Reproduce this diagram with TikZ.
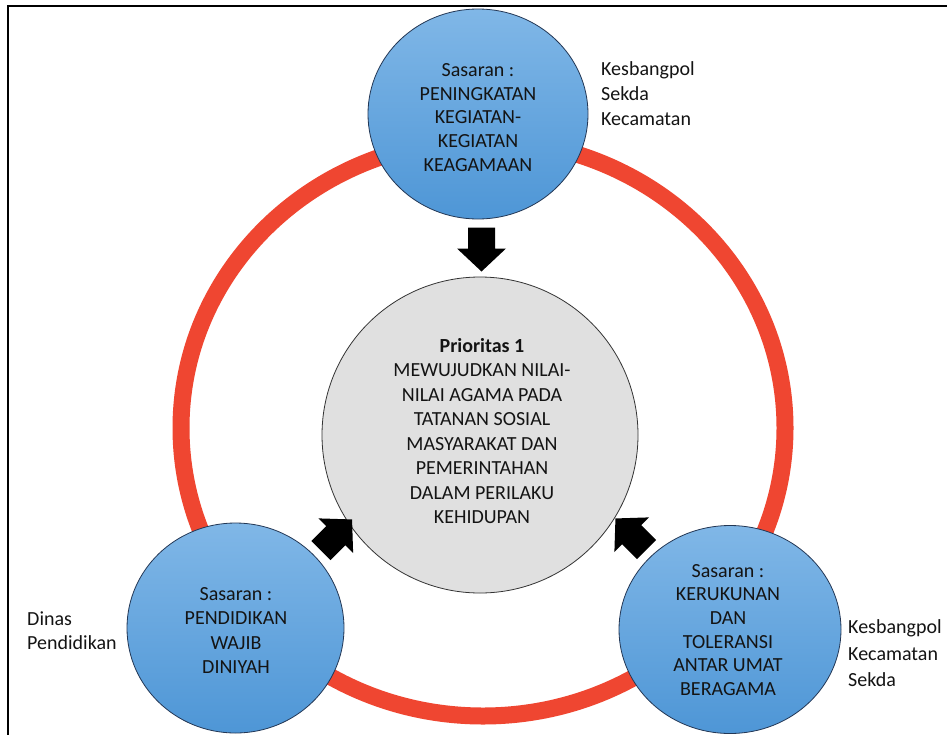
\documentclass[tikz,border=0pt]{standalone}
\usepackage{fontspec}
\setmainfont{Carlito}
\usetikzlibrary{shapes.geometric}
\definecolor{ringred}{RGB}{239,70,49}
\definecolor{bluetop}{RGB}{128,183,231}
\definecolor{bluebot}{RGB}{78,150,214}
\definecolor{bluerim}{RGB}{35,55,85}
\definecolor{grayfill}{RGB}{224,224,224}
\definecolor{txt}{RGB}{20,20,20}
\begin{document}
\begin{tikzpicture}[x=1pt,y=-1pt,
  bluec/.style={ellipse, draw=bluerim, line width=0.8pt, top color=bluetop, bottom color=bluebot, inner sep=0pt},
  circtext/.style={align=center, inner sep=0pt, text=txt, font=\fontsize{20}{23.7}\selectfont},
  sidetext/.style={align=left, inner sep=0pt, anchor=north west, text=txt, font=\fontsize{20}{25}\selectfont},
  blockarrow/.style={fill=black}]
\useasboundingbox (0,0) rectangle (947,734);
\fill[white] (0,0) rectangle (947,734);
% frame
\coordinate (fa) at (7.5,740);
\coordinate (fb) at (7.5,5.5);
\coordinate (fc) at (950,5.5);
\draw[line width=2pt, black] (fa) -- (fb) -- (fc);
% ring
\coordinate (rc) at (483,428);
\draw[ringred, line width=17pt] (rc) ellipse [x radius=302, y radius=288];
% central circle
\node[circle, draw=black!80, line width=0.8pt, fill=grayfill, minimum size=316pt, inner sep=0pt] (prio) at (480,435) {};
\node[circtext, font=\fontsize{20}{24.5}\selectfont] (priot) at (482,431) {\textbf{Prioritas 1}\\MEWUJUDKAN NILAI-\\NILAI AGAMA PADA\\TATANAN SOSIAL\\MASYARAKAT DAN\\PEMERINTAHAN\\DALAM PERILAKU\\KEHIDUPAN};
% blue circles
\node[bluec, minimum width=220pt, minimum height=210pt] (top) at (478,114) {};
\node[circtext] (topt) at (478,117.5) {Sasaran :\\PENINGKATAN\\KEGIATAN-\\KEGIATAN\\KEAGAMAAN};
\node[bluec, minimum width=217pt, minimum height=210pt] (bl) at (235.5,628) {};
\node[circtext, font=\fontsize{20}{24.3}\selectfont] (blt) at (236,630.5) {Sasaran :\\PENDIDIKAN\\WAJIB\\DINIYAH};
\node[bluec, minimum width=222pt, minimum height=208pt] (br) at (730,629.5) {};
\node[circtext] (brt) at (728,630) {Sasaran :\\KERUKUNAN\\DAN\\TOLERANSI\\ANTAR UMAT\\BERAGAMA};
% block arrows
\coordinate (a1) at (481.5,249.5);
\coordinate (a2) at (336.5,535);
\coordinate (a3) at (631,534);
\foreach \c/\ang in {a1/-90, a2/45, a3/135}
  \fill[blockarrow, shift={(\c)}, rotate=\ang]
    (-22,-13.5) -- (-1,-13.5) -- (-1,-24.5) -- (22,0) -- (-1,24.5) -- (-1,13.5) -- (-22,13.5) -- cycle;
% side labels
\node[sidetext] (lt) at (601,61) {Kesbangpol\\Sekda\\Kecamatan};
\node[sidetext, font=\fontsize{20}{24}\selectfont] (ll) at (27,611.5) {Dinas\\Pendidikan};
\node[sidetext, font=\fontsize{20}{26.5}\selectfont] (lr) at (848,619.5) {Kesbangpol\\Kecamatan\\Sekda};
\end{tikzpicture}
\end{document}
